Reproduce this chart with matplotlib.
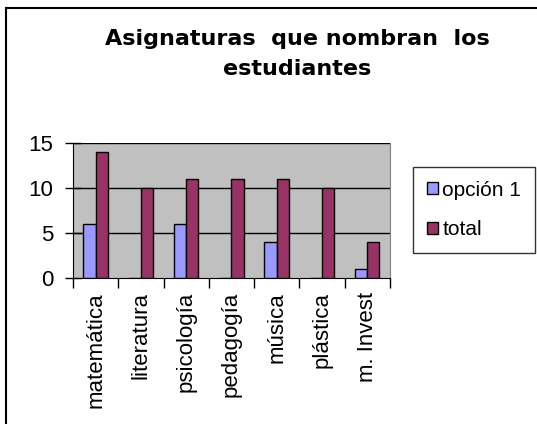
import matplotlib.pyplot as plt
from matplotlib.lines import Line2D
import numpy as np

categorias = ['matemática', 'literatura', 'psicología', 'pedagogía',
              'música', 'plástica', 'm. Invest']
opcion1 = [6, 0, 6, 0, 4, 0, 1]
total = [14, 10, 11, 11, 11, 10, 4]
yticks = [0, 5, 10, 15]

plt.rcParams['font.family'] = ['Liberation Sans', 'DejaVu Sans']

fig = plt.figure(figsize=(5.37, 4.24), dpi=100)
ax = fig.add_axes([0.136, 0.344, 0.590, 0.319])
ax.set_facecolor('#C0C0C0')

x = np.arange(len(categorias))
w = 0.27
ax.bar(x - w / 2, opcion1, w, color='#9999FF', edgecolor='black', linewidth=1, label='opción 1', zorder=3)
ax.bar(x + w / 2, total, w, color='#993366', edgecolor='black', linewidth=1, label='total', zorder=3)

ax.set_xlim(-0.5, len(categorias) - 0.5)
ax.set_ylim(0, 15)
ax.set_yticks(yticks)
ax.tick_params(axis='y', labelsize=16, length=12, width=1, direction='inout', pad=8)
for v in yticks[1:]:
    ax.axhline(v, color='black', linewidth=1, zorder=1)

# ticks between categories, labels at centers
ax.set_xticks(np.arange(-0.5, len(categorias)), minor=False)
ax.set_xticklabels([])
ax.set_xticks(x, minor=True)
ax.set_xticklabels(categorias, minor=True, rotation=90, fontsize=16)
ax.tick_params(axis='x', which='major', length=7, width=1)
ax.tick_params(axis='x', which='minor', length=0, pad=10)

ax.spines['left'].set_color('black')
ax.spines['bottom'].set_color('black')
ax.spines['top'].set_visible(False)
ax.spines['right'].set_color('#808080')

fig.text(297 / 537, 1 - 45 / 424, 'Asignaturas  que nombran  los', ha='center', va='baseline',
         fontsize=16, fontweight='bold', family='DejaVu Sans')
fig.text(297 / 537, 1 - 75 / 424, 'estudiantes', ha='center', va='baseline',
         fontsize=16, fontweight='bold', family='DejaVu Sans')

leg = fig.legend(loc='upper left', bbox_to_anchor=(413 / 537, 1 - 167 / 424), fontsize=15,
                 frameon=True, fancybox=False, edgecolor='black', handlelength=0.55,
                 handleheight=0.55, handletextpad=0.2, labelspacing=1.0, borderpad=0.65,
                 borderaxespad=0)
leg.get_frame().set_linewidth(1)

# chart border (top and left visible)
fig.add_artist(Line2D([6 / 537, 1], [1 - 8 / 424, 1 - 8 / 424], color='black', linewidth=1.5))
fig.add_artist(Line2D([6 / 537, 6 / 537], [0, 1 - 8 / 424], color='black', linewidth=1.5))

fig.savefig('out.png', dpi=100)
